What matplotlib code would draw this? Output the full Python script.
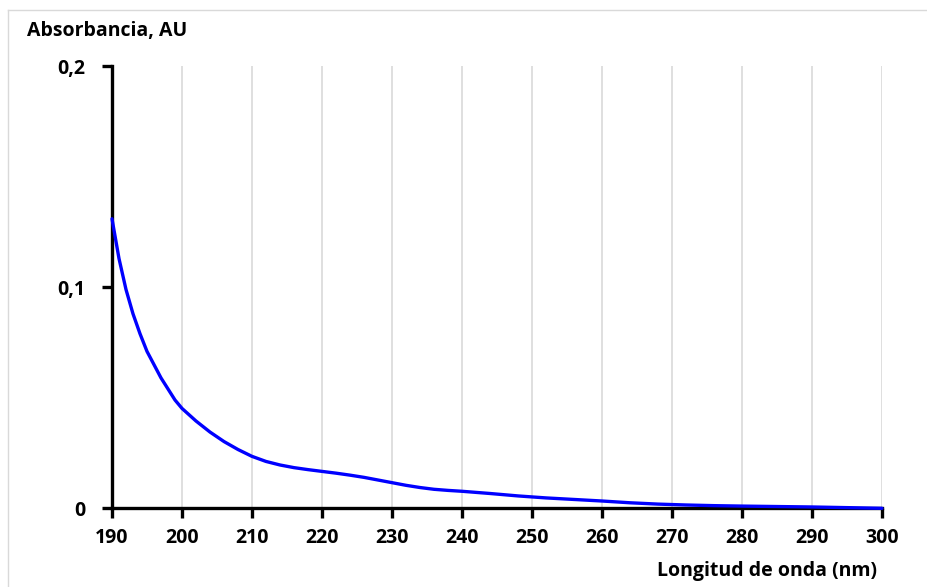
import matplotlib
matplotlib.use("Agg")
import matplotlib.pyplot as plt
from matplotlib.lines import Line2D

wavelength = [190, 191, 192, 193, 194, 195, 196, 197, 198, 199, 200, 202, 204, 206, 208, 210,
              212, 214, 216, 218, 220, 222, 224, 226, 228, 230, 232, 234, 236, 238, 240, 244,
              248, 252, 256, 260, 264, 268, 272, 276, 280, 285, 290, 295, 300]
absorbance = [0.131, 0.113, 0.099, 0.088, 0.079, 0.071, 0.065, 0.059, 0.054, 0.049, 0.0452,
              0.0395, 0.0345, 0.0302, 0.0266, 0.0235, 0.0212, 0.0196, 0.0184, 0.0175, 0.0167,
              0.0159, 0.0150, 0.0140, 0.0128, 0.0116, 0.0104, 0.0094, 0.0086, 0.0081, 0.0077,
              0.0067, 0.0056, 0.0047, 0.0040, 0.0033, 0.0025, 0.0019, 0.0015, 0.0012, 0.0010,
              0.0008, 0.0006, 0.0003, 0.0]
x_ticks = [190, 200, 210, 220, 230, 240, 250, 260, 270, 280, 290, 300]
y_ticks = [0, 0.1, 0.2]
y_tick_labels = ["0", "0,1", "0,2"]

plt.rcParams['font.family'] = ['Open Sans', 'DejaVu Sans']
FS = 14

fig = plt.figure(figsize=(9.28, 5.87), dpi=100)
ax = fig.add_axes([112/928, 1-508.3/587, (882-112)/928, (508.3-66.3)/587])

ax.plot(wavelength, absorbance, color='#0000FF', lw=2.4, solid_capstyle='round',
        solid_joinstyle='round', zorder=3, clip_on=False)

ax.set_xlim(190, 300)
ax.set_ylim(0, 0.2)
ax.set_xticks(x_ticks)
ax.set_xticklabels([str(t) for t in x_ticks], fontsize=FS, fontweight='bold')
ax.set_yticks(y_ticks)
ax.set_yticklabels(y_tick_labels, fontsize=FS, fontweight='bold')
ax.grid(axis='x', color='#D9D9D9', lw=1.2)
ax.grid(axis='y', visible=False)
ax.set_axisbelow(True)
for s in ['top', 'right']:
    ax.spines[s].set_visible(False)
for s in ['left', 'bottom']:
    ax.spines[s].set_linewidth(2.4)
    ax.spines[s].set_color('black')
    ax.spines[s].set_zorder(2)
ax.tick_params(axis='both', direction='out', length=7, width=2.4, color='black')
ax.tick_params(axis='y', pad=12)
ax.tick_params(axis='x', pad=7)

fig.text(27/928, 1-31/587, "Absorbancia, AU", fontsize=FS, fontweight='bold', ha='left', va='center')
fig.text(877/928, 1-571/587, "Longitud de onda (nm)", fontsize=FS, fontweight='bold', ha='right', va='center')

fig.add_artist(Line2D([8.5/928, 1], [1-9.5/587, 1-9.5/587], transform=fig.transFigure, color='#D9D9D9', lw=1))
fig.add_artist(Line2D([8.5/928, 8.5/928], [0, 1-9.5/587], transform=fig.transFigure, color='#D9D9D9', lw=1))

fig.savefig("out.png", dpi=100)
